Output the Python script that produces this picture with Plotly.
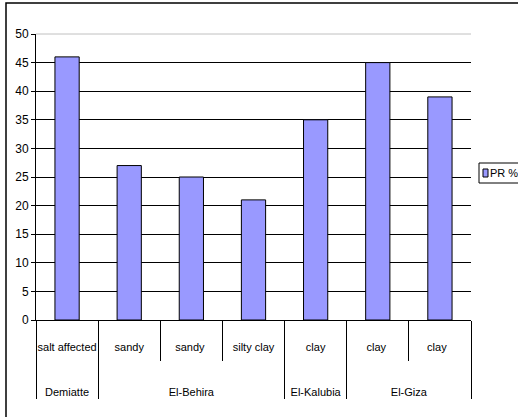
import plotly.graph_objects as go

regions = ["Demiatte", "El-Behira", "El-Behira", "El-Behira", "El-Kalubia", "El-Giza", "El-Giza"]
soils = ["salt affected", "sandy", "sandy ", "silty clay", "clay", "clay ", "clay  "]
pr_values = [46, 27, 25, 21, 35, 45, 39]
y_ticks = list(range(0, 55, 5))
series_name = "PR %"

FONT = "Liberation Sans, Arial"

# plot-area pixel geometry helpers for decorations
L, R, T, B = 36, 471, 34, 320
def px(x):
    return (x - L) / (R - L)
def py(y):
    return (B - y) / (B - T)

def small(s):
    return "<span style='font-size:11px'>" + s + "</span>"

soil_labels = ["<br>" + small(s) for s in soils]
region_labels = ["<br><br><br>" + small(r) for r in regions]

fig = go.Figure()
fig.add_trace(go.Bar(
    x=[region_labels, soil_labels], y=pr_values, name=series_name,
    marker=dict(color="#9999FF", line=dict(color="#000000", width=1)),
    showlegend=False,
))

fig.update_layout(
    width=518, height=417,
    margin=dict(l=L, r=518 - R, t=T, b=417 - B, autoexpand=False),
    paper_bgcolor="white", plot_bgcolor="white",
    font=dict(family=FONT, size=12, color="black"),
    bargap=0.61,
    showlegend=False,
)
fig.update_xaxes(
    type="multicategory", showline=True, linecolor="black", linewidth=1,
    ticks="outside", tickson="boundaries", ticklen=40, tickcolor="black",
    showdividers=True, dividercolor="black", dividerwidth=1,
    showgrid=False, tickangle=0, tickfont=dict(family=FONT, size=12),
)
fig.update_yaxes(
    range=[0, 50], tickvals=y_ticks, showline=True, linecolor="black", linewidth=1,
    ticks="outside", ticklen=4, tickcolor="black",
    showgrid=True, gridcolor="black", gridwidth=1, zeroline=False,
    tickfont=dict(family=FONT, size=12),
)
# top of plot area light gray
fig.add_shape(type="line", xref="paper", yref="paper", x0=0, x1=1, y0=1, y1=1,
              line=dict(color="#C0C0C0", width=1))
# chart frame (extends past right/bottom edge)
fig.add_shape(type="rect", xref="paper", yref="paper",
              x0=px(6), x1=px(540), y0=py(440), y1=py(3),
              line=dict(color="black", width=1.5))
# legend box
fig.add_shape(type="rect", xref="paper", yref="paper",
              x0=px(479), x1=px(540), y0=py(183), y1=py(163),
              line=dict(color="black", width=1), fillcolor="white")
fig.add_shape(type="rect", xref="paper", yref="paper",
              x0=px(483), x1=px(488), y0=py(177), y1=py(169),
              line=dict(color="black", width=1), fillcolor="#9999FF")
fig.add_annotation(xref="paper", yref="paper", x=px(488), y=py(173),
                   xanchor="left", yanchor="middle", showarrow=False,
                   text=series_name, font=dict(family=FONT, size=11, color="black"))

fig.write_html("out.html")
